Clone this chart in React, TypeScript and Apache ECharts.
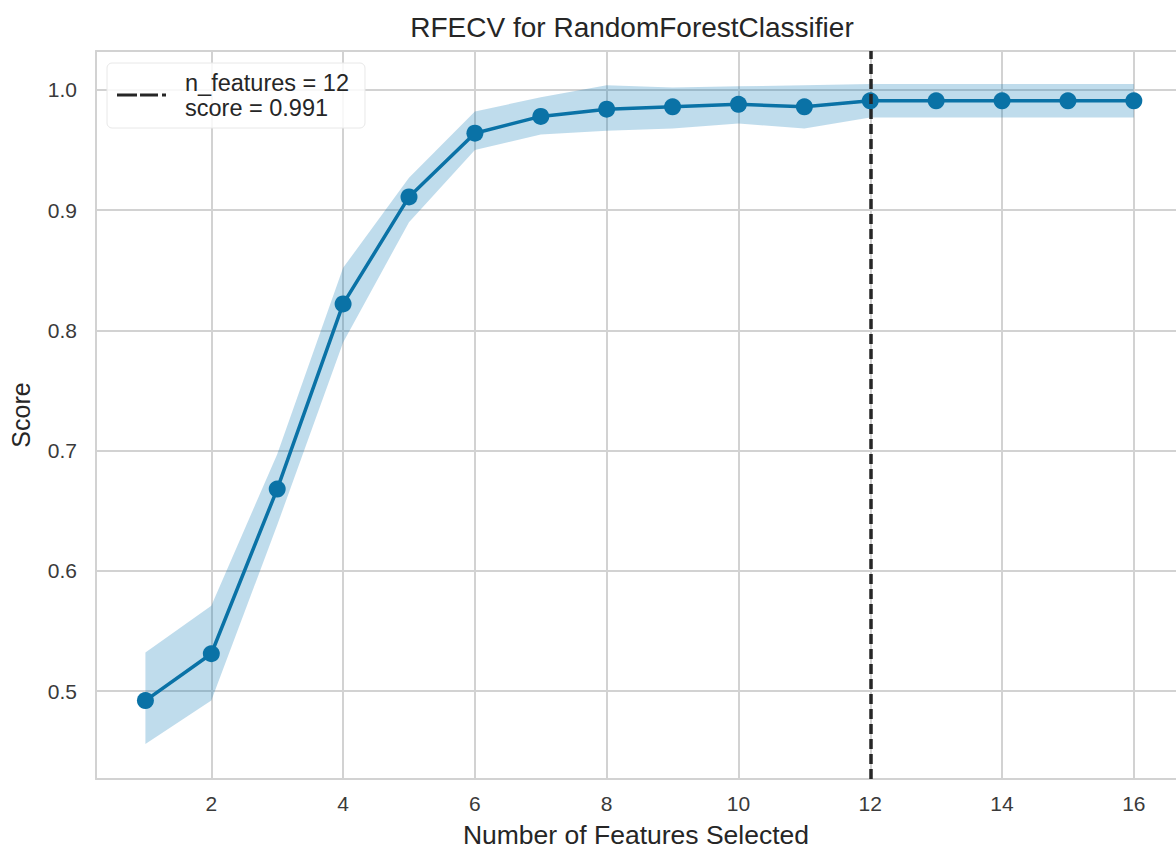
import React, { useEffect, useRef } from "react";
import * as echarts from "echarts";

const featureCounts = [1, 2, 3, 4, 5, 6, 7, 8, 9, 10, 11, 12, 13, 14, 15, 16];
const meanScores = [0.492, 0.531, 0.668, 0.822, 0.911, 0.964, 0.978, 0.984, 0.986, 0.988, 0.986, 0.991, 0.991, 0.991, 0.991, 0.991];
const upperScores = [0.532, 0.571, 0.697, 0.852, 0.927, 0.982, 0.994, 1.004, 1.002, 1.003, 1.004, 1.005, 1.005, 1.005, 1.005, 1.005];
const lowerScores = [0.456, 0.492, 0.638, 0.790, 0.890, 0.950, 0.963, 0.966, 0.968, 0.972, 0.968, 0.977, 0.977, 0.977, 0.977, 0.977];
const xTicks = [2, 4, 6, 8, 10, 12, 14, 16];
const yTicks = [0.5, 0.6, 0.7, 0.8, 0.9, 1.0];
const selectedN = 12;
const selectedScore = 0.991;

const FONT = "'Liberation Sans', Arial, sans-serif";
const GRID_COLOR = "#d2d2d2";

export default function App() {
  const ref = useRef<HTMLDivElement>(null);
  useEffect(() => {
    if (!ref.current) return;
    const chart = echarts.init(ref.current, null, { renderer: "svg" });
    const bandData = featureCounts.map((x, i) => [x, lowerScores[i], upperScores[i]]);
    const mean = featureCounts.map((x, i) => [x, meanScores[i]]);
    const legendName = `n_features = ${selectedN}\nscore = ${selectedScore.toFixed(3)}`;
    chart.setOption({
      animation: false,
      title: {
        text: "RFECV for RandomForestClassifier",
        left: 627,
        textAlign: "center",
        top: 8,
        textStyle: { fontFamily: FONT, fontSize: 28, fontWeight: "normal", color: "#262626" },
      },
      grid: { left: 96, top: 51, right: 0, bottom: 70, containLabel: false, outerBoundsMode: "none" },
      legend: {
        data: [
          {
            name: legendName,
            icon: "path://M0,0h20v3h-20z M23,0h18v3h-18z M45,0h4v3h-4z",
          },
        ],
        left: 107,
        top: 63,
        orient: "vertical",
        backgroundColor: "rgba(255,255,255,0.85)",
        borderColor: "#e8e8e8",
        borderWidth: 1,
        borderRadius: 5,
        padding: [7, 16, 8, 10],
        itemWidth: 49,
        itemHeight: 3,
        textStyle: {
          fontFamily: FONT,
          fontSize: 23.5,
          color: "#262626",
          lineHeight: 25,
          padding: [0, 0, 0, 14],
        },
        selectedMode: false,
      },
      xAxis: [
        {
          type: "value",
          min: 0.25,
          max: 16.64,
          axisLine: { show: true, lineStyle: { color: GRID_COLOR, width: 2 } },
          axisTick: { show: false, customValues: xTicks },
          axisLabel: {
            customValues: xTicks,
            fontFamily: FONT,
            fontSize: 21,
            color: "#3a3a3a",
            margin: 14,
          },
          splitLine: { show: true, lineStyle: { color: GRID_COLOR, width: 2 } },
          name: "Number of Features Selected",
          nameLocation: "middle",
          nameGap: 43,
          nameTextStyle: { fontFamily: FONT, fontSize: 26.5, lineHeight: 26, color: "#262626" },
        },
        {
          type: "value",
          position: "top",
          min: 0.25,
          max: 16.64,
          axisLine: { show: true, lineStyle: { color: GRID_COLOR, width: 2 } },
          axisTick: { show: false },
          axisLabel: { show: false },
          splitLine: { show: false },
        },
      ],
      yAxis: {
        type: "value",
        min: 0.4268,
        max: 1.0324,
        axisLine: { show: true, lineStyle: { color: GRID_COLOR, width: 2 } },
        axisTick: { show: false, customValues: yTicks },
        axisLabel: {
          customValues: yTicks,
          formatter: (v: number) => v.toFixed(1),
          fontFamily: FONT,
          fontSize: 21,
          color: "#3a3a3a",
          margin: 19,
        },
        splitLine: { show: true, lineStyle: { color: GRID_COLOR, width: 2 } },
        name: "Score",
        nameLocation: "middle",
        nameGap: 63,
        nameRotate: 90,
        nameTextStyle: { fontFamily: FONT, fontSize: 25, color: "#262626" },
      },
      series: [
        {
          type: "custom",
          data: bandData,
          encode: { x: 0, y: [1, 2] },
          silent: true,
          z: 1,
          renderItem: (params: any, api: any) => {
            if (params.dataIndex !== 0) return null;
            const pts: number[][] = [];
            featureCounts.forEach((x, i) => pts.push(api.coord([x, upperScores[i]])));
            for (let i = featureCounts.length - 1; i >= 0; i--) {
              pts.push(api.coord([featureCounts[i], lowerScores[i]]));
            }
            return {
              type: "polygon",
              shape: { points: pts },
              style: { fill: "rgba(0,114,178,0.25)" },
            };
          },
        },
        {
          type: "line",
          data: mean,
          symbol: "circle",
          symbolSize: 17,
          itemStyle: { color: "#0a72a6" },
          lineStyle: { color: "#0a72a6", width: 3.5 },
          z: 3,
        },
        {
          name: legendName,
          type: "line",
          data: [],
          symbol: "none",
          itemStyle: { color: "#262626" },
          lineStyle: { color: "#262626", width: 3, type: [10, 5] },
          markLine: {
            symbol: "none",
            silent: true,
            label: { show: false },
            lineStyle: { color: "#262626", width: 3.5, type: [10, 5] },
            data: [{ xAxis: selectedN }],
          },
          z: 4,
        },
      ],
    });
    return () => chart.dispose();
  }, []);
  return (
    <div
      ref={ref}
      style={{ position: "absolute", left: 0, top: 0, width: 1176, height: 849, background: "#fff" }}
    />
  );
}
